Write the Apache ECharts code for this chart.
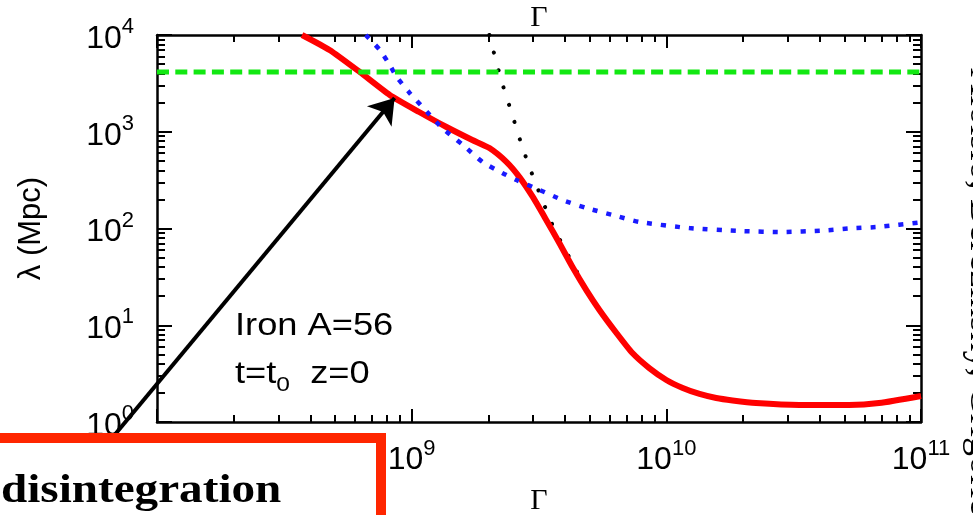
<!DOCTYPE html>
<html><head><meta charset="utf-8">
<script src="https://cdn.jsdelivr.net/npm/echarts@6/dist/echarts.min.js"></script>
<style>html,body{margin:0;padding:0;background:#fff}#c{width:973px;height:515px}</style>
</head><body><div id="c"></div>
<script>
// ---- data ----
const X_MIN = 1e8, X_MAX = 1e11, Y_MIN = 1, Y_MAX = 1e4;

const gammaRed  = [3.71e8, 4.76e8, 6.25e8, 8.20e8, 1.07e9, 1.37e9, 1.73e9, 2.02e9, 2.36e9, 2.65e9, 2.99e9, 3.38e9, 3.80e9, 4.28e9, 4.85e9, 5.46e9, 6.37e9, 7.36e9, 8.57e9, 1.00e10, 1.16e10, 1.35e10, 1.57e10, 1.82e10, 2.25e10, 3.33e10, 5.22e10, 6.84e10, 1.00e11];
const lambdaRed = [1.00e4, 7.00e3, 4.15e3, 2.40e3, 1.60e3, 1.12e3, 822, 679, 486, 340, 212, 122, 70.8, 40.0, 23.1, 14.4, 8.32, 5.16, 3.61, 2.72, 2.25, 1.95, 1.77, 1.67, 1.57, 1.50, 1.50, 1.57, 1.86];

const gammaBlue  = [6.6e8, 7.50e8, 8.20e8, 8.73e8, 9.82e8, 1.15e9, 1.32e9, 1.59e9, 1.90e9, 2.27e9, 2.58e9, 3.18e9, 3.91e9, 4.85e9, 6.14e9, 7.83e9, 1.23e10, 1.99e10, 2.85e10, 4.09e10, 5.22e10, 6.84e10, 1.00e11];
const lambdaBlue = [1.0e4, 7.00e3, 4.90e3, 3.68e3, 2.52e3, 1.60e3, 1.09e3, 730, 486, 375, 317, 250, 197, 163, 138, 117, 101, 94, 92, 95, 100, 104, 116];

const gammaBlack  = [2.02e9, 2.06e9, 2.26e9, 2.49e9, 2.72e9, 2.99e9, 3.27e9, 3.57e9, 3.95e9, 4.36e9, 4.85e9, 5.46e9, 6.37e9, 7.36e9, 8.57e9, 1.00e10, 1.16e10, 1.35e10, 1.57e10, 1.82e10, 2.25e10, 3.33e10, 5.22e10, 6.84e10, 1.00e11];
const lambdaBlack = [1.0e4, 8.07e3, 3.27e3, 1.46e3, 695, 349, 192, 109, 64.4, 40.0, 23.1, 14.4, 8.32, 5.16, 3.61, 2.72, 2.25, 1.95, 1.77, 1.67, 1.57, 1.50, 1.50, 1.57, 1.86];

const gammaGreen  = [1e8, 1e11];
const lambdaGreen = [4150, 4150];

// arrow annotation (data coordinates)
const arrowFrom = [4.85e7, 0.25];
const arrowTo   = [8.57e8, 2.23e3];

// minor tick values
const xMinorTicks = [2e8,3e8,4e8,5e8,6e8,7e8,8e8,9e8, 2e9,3e9,4e9,5e9,6e9,7e9,8e9,9e9, 2e10,3e10,4e10,5e10,6e10,7e10,8e10,9e10];
const yMinorTicks = [2,3,4,5,6,7,8,9, 20,30,40,50,60,70,80,90, 200,300,400,500,600,700,800,900, 2000,3000,4000,5000,6000,7000,8000,9000];

const xName = 'Γ';
const yName = 'λ (Mpc)';
const noteLine1 = 'Iron A=56';
const boxText = 'disintegration';
const sideText = 'Aloisio, Berezinsky, Grigorieva';

// ---- chart ----
const pairs = (xs, ys) => xs.map((x, i) => [x, ys[i]]);
const supLabel = v => '{b|10}{s|' + Math.round(Math.log10(v)) + '}';
const labelRich = {
  b: {fontSize: 32, fontFamily: 'Liberation Sans', color: '#000'},
  s: {fontSize: 22, fontFamily: 'Liberation Sans', color: '#000', padding: [0, 0, 24, 0]}
};
const axisLineStyle = {show: true, onZero: false, lineStyle: {color: '#000', width: 2.5}};
const majorTick = len => ({show: true, inside: true, length: len, lineStyle: {color: '#000', width: 2}});

// helper axes in decade units (same pixel mapping as the log axes) that only carry the minor ticks
const minorTickAxis = (pos, min, max, len, values) => ({
  type: 'value', min: min, max: max, interval: 1, position: pos,
  axisLine: {show: false, onZero: false}, axisLabel: {show: false}, splitLine: {show: false},
  axisTick: {show: true, inside: true, length: len, lineStyle: {color: '#000', width: 2},
             customValues: values.map(v => Math.log10(v))}
});
const LX0 = Math.log10(X_MIN), LX1 = Math.log10(X_MAX), LY0 = Math.log10(Y_MIN), LY1 = Math.log10(Y_MAX);

const chart = echarts.init(document.getElementById('c'), null, {renderer: 'canvas'});
chart.setOption({
  animation: false,
  backgroundColor: '#fff',
  textStyle: {fontFamily: 'Liberation Sans'},
  grid: {left: 157, right: 52, top: 35, bottom: 93, containLabel: false, outerBoundsMode: 'none'},
  xAxis: [
    {type: 'log', logBase: 10, min: X_MIN, max: X_MAX, position: 'bottom',
     name: xName, nameLocation: 'middle', nameGap: 64,
     nameTextStyle: {fontFamily: 'Liberation Serif', fontSize: 30, color: '#000'},
     axisLine: axisLineStyle, axisTick: majorTick(13),
     axisLabel: {margin: 15.5, formatter: supLabel, rich: labelRich},
     splitLine: {show: false}, minorTick: {show: false}},
    {type: 'log', logBase: 10, min: X_MIN, max: X_MAX, position: 'top',
     name: xName, nameLocation: 'middle', nameGap: 2,
     nameTextStyle: {fontFamily: 'Liberation Serif', fontSize: 30, color: '#000'},
     axisLine: axisLineStyle, axisTick: majorTick(13),
     axisLabel: {show: false}, splitLine: {show: false}},
    minorTickAxis('bottom', LX0, LX1, 7, xMinorTicks),
    minorTickAxis('top', LX0, LX1, 7, xMinorTicks)
  ],
  yAxis: [
    {type: 'log', logBase: 10, min: Y_MIN, max: Y_MAX, position: 'left',
     name: yName, nameLocation: 'middle', nameGap: 110,
     nameTextStyle: {fontFamily: 'Liberation Sans', fontSize: 31, color: '#000'},
     axisLine: axisLineStyle, axisTick: majorTick(15),
     axisLabel: {margin: 23, padding: [8, 0, 0, 0], formatter: supLabel, rich: labelRich},
     splitLine: {show: false}},
    {type: 'log', logBase: 10, min: Y_MIN, max: Y_MAX, position: 'right',
     axisLine: axisLineStyle, axisTick: majorTick(15),
     axisLabel: {show: false}, splitLine: {show: false}},
    minorTickAxis('left', LY0, LY1, 8, yMinorTicks),
    minorTickAxis('right', LY0, LY1, 8, yMinorTicks)
  ],
  series: [
    {type: 'line', name: 'black', data: pairs(gammaBlack, lambdaBlack), showSymbol: false, smooth: 0.2,
     lineStyle: {color: '#000', width: 4, type: [0.1, 18], cap: 'round'}, z: 4},
    {type: 'line', name: 'red', data: pairs(gammaRed, lambdaRed), showSymbol: false, smooth: 0.2,
     lineStyle: {color: '#ff0000', width: 6}, z: 5},
    {type: 'line', name: 'blue', data: pairs(gammaBlue, lambdaBlue), showSymbol: false, smooth: 0.2,
     lineStyle: {color: '#1a1aff', width: 4.5, type: [5, 9]}, z: 6},
    {type: 'line', name: 'green', data: pairs(gammaGreen, lambdaGreen), showSymbol: false,
     lineStyle: {color: '#12e812', width: 5, type: [12, 6.3]}, z: 7},
    {type: 'lines', coordinateSystem: 'cartesian2d', clip: false, silent: true, z: 8,
     data: [{coords: [arrowFrom, arrowTo]}],
     symbol: ['none', 'arrow'], symbolSize: [0, 24],
     lineStyle: {color: '#000', width: 4, opacity: 1}, itemStyle: {color: '#000'}}
  ],
  graphic: {elements: [
    {type: 'text', z: 50, x: 235, y: 311, scaleX: 1.17,
     style: {text: noteLine1, font: '31px "Liberation Sans"', fill: '#000', textVerticalAlign: 'top', verticalAlign: 'top'}},
    {type: 'text', z: 50, x: 235, y: 353, scaleX: 1.17,
     style: {text: '{n|t=t}{sub|0}{n|  z=0}', fill: '#000', textVerticalAlign: 'top', verticalAlign: 'top',
             rich: {n: {fontSize: 31, fontFamily: 'Liberation Sans', color: '#000'},
                    sub: {fontSize: 21, fontFamily: 'Liberation Sans', color: '#000', padding: [22, 0, 0, 0]}}}},
    {type: 'rect', z: 100, shape: {x: -20, y: 438, width: 401, height: 140},
     style: {fill: '#fff', stroke: '#ff2600', lineWidth: 10}},
    {type: 'text', z: 101, x: 1, y: 471, scaleX: 1.15,
     style: {text: boxText, font: 'bold 41px "Liberation Serif"', fill: '#000', textVerticalAlign: 'top', verticalAlign: 'top'}},
    {type: 'text', z: 50, x: 962, y: 68, rotation: -Math.PI / 2,
     style: {text: sideText, font: '38px "Liberation Serif"', fill: '#000', textAlign: 'left', align: 'left', textVerticalAlign: 'bottom', verticalAlign: 'bottom'}}
  ]}
});
</script>
</body></html>
